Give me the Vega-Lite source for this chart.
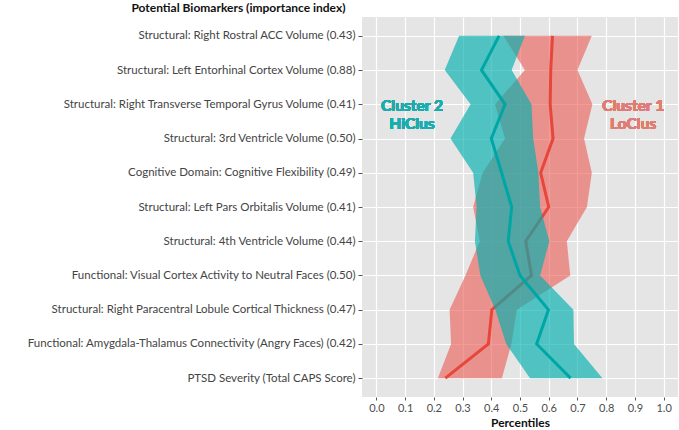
{
  "$schema": "https://vega.github.io/schema/vega-lite/v6.json",
  "autosize": {"type": "none"},
  "padding": {"left": 362, "top": 17, "right": 1, "bottom": 33},
  "width": 316,
  "height": 380,
  "background": "white",
  "config": {
    "view": {"fill": "#E5E5E5", "stroke": null},
    "font": "Lato",
    "axisX": {
      "values": [0, 0.1, 0.2, 0.3, 0.4, 0.5, 0.6, 0.7, 0.8, 0.9, 1.0],
      "format": ".1f",
      "labelOverlap": false,
      "titleFontSize": 12,
      "titleFontWeight": "bold",
      "titleColor": "#111",
      "titlePadding": 4,
      "labelFontSize": 11,
      "labelColor": "#4d4d4d",
      "labelPadding": 2,
      "tickColor": "#555",
      "tickSize": 3,
      "domain": false,
      "grid": true,
      "gridColor": "white",
      "gridWidth": 1.2
    }
  },
  "data": {
    "values": [
      {"cluster": "Cluster 2", "row": "Structural:  Right Rostral ACC Volume (0.43)", "rank": 1, "lo": 0.288, "mid": 0.427, "hi": 0.517},
      {"cluster": "Cluster 2", "row": "Structural:  Left Entorhinal Cortex Volume (0.88)", "rank": 2, "lo": 0.238, "mid": 0.366, "hi": 0.471},
      {"cluster": "Cluster 2", "row": "Structural:  Right Transverse Temporal Gyrus Volume (0.41)", "rank": 3, "lo": 0.328, "mid": 0.448, "hi": 0.540},
      {"cluster": "Cluster 2", "row": "Structural:  3rd Ventricle Volume (0.50)", "rank": 4, "lo": 0.258, "mid": 0.400, "hi": 0.546},
      {"cluster": "Cluster 2", "row": "Cognitive Domain: Cognitive Flexibility (0.49)", "rank": 5, "lo": 0.337, "mid": 0.436, "hi": 0.564},
      {"cluster": "Cluster 2", "row": "Structural:  Left Pars Orbitalis Volume (0.41)", "rank": 6, "lo": 0.349, "mid": 0.471, "hi": 0.570},
      {"cluster": "Cluster 2", "row": "Structural:  4th Ventricle Volume (0.44)", "rank": 7, "lo": 0.343, "mid": 0.459, "hi": 0.602},
      {"cluster": "Cluster 2", "row": "Functional:  Visual Cortex Activity to Neutral Faces (0.50)", "rank": 8, "lo": 0.362, "mid": 0.500, "hi": 0.570},
      {"cluster": "Cluster 2", "row": "Structural:  Right Paracentral Lobule Cortical Thickness (0.47)", "rank": 9, "lo": 0.414, "mid": 0.599, "hi": 0.686},
      {"cluster": "Cluster 2", "row": "Functional:  Amygdala-Thalamus Connectivity (Angry Faces) (0.42)", "rank": 10, "lo": 0.452, "mid": 0.558, "hi": 0.688},
      {"cluster": "Cluster 2", "row": "PTSD Severity  (Total CAPS Score)", "rank": 11, "lo": 0.535, "mid": 0.676, "hi": 0.787},
      {"cluster": "Cluster 1", "row": "Structural:  Right Rostral ACC Volume (0.43)", "rank": 1, "lo": 0.442, "mid": 0.613, "hi": 0.750},
      {"cluster": "Cluster 1", "row": "Structural:  Left Entorhinal Cortex Volume (0.88)", "rank": 2, "lo": 0.517, "mid": 0.607, "hi": 0.700},
      {"cluster": "Cluster 1", "row": "Structural:  Right Transverse Temporal Gyrus Volume (0.41)", "rank": 3, "lo": 0.413, "mid": 0.605, "hi": 0.752},
      {"cluster": "Cluster 1", "row": "Structural:  3rd Ventricle Volume (0.50)", "rank": 4, "lo": 0.448, "mid": 0.615, "hi": 0.723},
      {"cluster": "Cluster 1", "row": "Cognitive Domain: Cognitive Flexibility (0.49)", "rank": 5, "lo": 0.370, "mid": 0.572, "hi": 0.750},
      {"cluster": "Cluster 1", "row": "Structural:  Left Pars Orbitalis Volume (0.41)", "rank": 6, "lo": 0.337, "mid": 0.600, "hi": 0.733},
      {"cluster": "Cluster 1", "row": "Structural:  4th Ventricle Volume (0.44)", "rank": 7, "lo": 0.360, "mid": 0.520, "hi": 0.663},
      {"cluster": "Cluster 1", "row": "Functional:  Visual Cortex Activity to Neutral Faces (0.50)", "rank": 8, "lo": 0.310, "mid": 0.540, "hi": 0.675},
      {"cluster": "Cluster 1", "row": "Structural:  Right Paracentral Lobule Cortical Thickness (0.47)", "rank": 9, "lo": 0.255, "mid": 0.402, "hi": 0.489},
      {"cluster": "Cluster 1", "row": "Functional:  Amygdala-Thalamus Connectivity (Angry Faces) (0.42)", "rank": 10, "lo": 0.260, "mid": 0.390, "hi": 0.470},
      {"cluster": "Cluster 1", "row": "PTSD Severity  (Total CAPS Score)", "rank": 11, "lo": 0.214, "mid": 0.240, "hi": 0.437}
    ]
  },
  "layer": [
    {
      "encoding": {
        "y": {
          "field": "rank",
          "type": "quantitative",
          "scale": {"domain": [0.45, 11.55], "reverse": true, "nice": false, "zero": false},
          "axis": null
        }
      },
      "layer": [
        {
          "transform": [{"filter": "datum.cluster === 'Cluster 1'"}],
          "mark": {"type": "area", "orient": "horizontal", "color": "#EC5F57", "opacity": 0.62},
          "encoding": {
            "x": {
              "field": "lo",
              "type": "quantitative",
              "stack": null,
              "scale": {"domain": [-0.05, 1.05], "nice": false, "zero": false},
              "axis": {"title": "Percentiles"}
            },
            "x2": {"field": "hi"}
          }
        },
        {
          "transform": [{"filter": "datum.cluster === 'Cluster 1'"}],
          "mark": {"type": "line", "color": "#E8453B", "strokeWidth": 3},
          "encoding": {
            "x": {"field": "mid", "type": "quantitative", "axis": {"title": "Percentiles"}},
            "order": {"field": "rank"}
          }
        },
        {
          "transform": [{"filter": "datum.cluster === 'Cluster 2'"}],
          "mark": {"type": "area", "orient": "horizontal", "color": "#00AFAF", "opacity": 0.65},
          "encoding": {
            "x": {"field": "lo", "type": "quantitative", "stack": null, "axis": {"title": "Percentiles"}},
            "x2": {"field": "hi"}
          }
        },
        {
          "mark": {"type": "text", "text": "Cluster 2\nHiClus", "lineBreak": "\n", "lineHeight": 18, "fontSize": 15.5, "fontWeight": "bold", "color": "#1AADAE", "align": "center", "baseline": "middle", "dy": 2},
          "encoding": {
            "x": {"datum": 0.124, "type": "quantitative", "axis": {"title": "Percentiles"}},
            "y": {"datum": 3}
          }
        },
        {
          "mark": {"type": "text", "text": "Cluster 1\nLoClus", "lineBreak": "\n", "lineHeight": 18, "fontSize": 15.5, "fontWeight": "bold", "color": "#E07C75", "align": "center", "baseline": "middle", "dy": 2},
          "encoding": {
            "x": {"datum": 0.894, "type": "quantitative", "axis": {"title": "Percentiles"}},
            "y": {"datum": 3}
          }
        }
      ]
    },
    {
      "transform": [{"filter": "datum.cluster === 'Cluster 2'"}],
      "mark": {"type": "line", "color": "#00A6A6", "strokeWidth": 3},
      "encoding": {
        "x": {"field": "mid", "type": "quantitative", "axis": {"title": "Percentiles"}},
        "y": {
          "field": "row",
          "type": "ordinal",
          "sort": null,
          "scale": {"type": "point", "padding": 0.55},
          "axis": {
            "title": "Potential Biomarkers (importance index)",
            "titleAngle": 0,
            "titleAlign": "right",
            "titleBaseline": "middle",
            "titleX": -17,
            "titleY": -10,
            "titleFontSize": 12,
            "titleFontWeight": "bold",
            "titleColor": "#111",
            "labelFontSize": 11.5,
            "labelColor": "#444",
            "labelPadding": 3,
            "labelLimit": 400,
            "tickColor": "#555",
            "tickSize": 4,
            "domain": false,
            "grid": true,
            "gridColor": "white",
            "gridWidth": 1.2
          }
        },
        "order": {"field": "rank"}
      }
    }
  ],
  "resolve": {"scale": {"y": "independent"}, "axis": {"y": "independent"}}
}
